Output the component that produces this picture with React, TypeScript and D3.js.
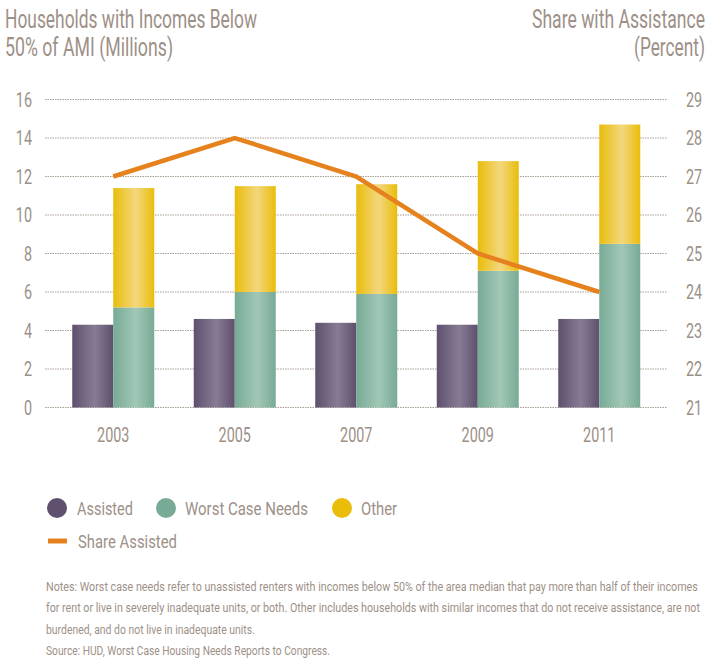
import React, { useLayoutEffect, useRef, useState } from "react";
import * as d3 from "d3";

const years = ["2003", "2005", "2007", "2009", "2011"];
const assisted = [4.3, 4.6, 4.4, 4.3, 4.6];
const worstCase = [5.2, 6.0, 5.9, 7.1, 8.5];
const other = [6.2, 5.5, 5.7, 5.7, 6.2];
const shareAssisted = [27, 28, 27, 25, 24];
const leftTicks = [0, 2, 4, 6, 8, 10, 12, 14, 16];
const rightTicks = [21, 22, 23, 24, 25, 26, 27, 28, 29];
const notes = [
  "Notes: Worst case needs refer to unassisted renters with incomes below 50% of the area median that pay more than half of their incomes",
  "for rent or live in severely inadequate units, or both. Other includes households with similar incomes that do not receive assistance, are not",
  "burdened, and do not live in inadequate units.",
  "Source: HUD, Worst Case Housing Needs Reports to Congress.",
];

const FONT = "Roboto, 'Liberation Sans', sans-serif";
const TXT = "#9d9087";
const GRID = "#a89d93";
const ORANGE = "#e6821e";
const SX = 0.72;

function CT(props: { x: number; y: number; size: number; anchor?: string; dy?: string; children: any }) {
  const { x, y, size, anchor, dy, children } = props;
  return (
    <text transform={`translate(${x},${y}) scale(${SX},1)`} dy={dy} fontSize={size} fill={TXT} textAnchor={anchor || "start"}>
      {children}
    </text>
  );
}

// Text condensed horizontally to a target width (measured, then scaled).
function LT(props: { x: number; y: number; size: number; len: number; anchor?: string; children: any }) {
  const { x, y, size, len, anchor, children } = props;
  const ref = useRef<SVGTextElement>(null);
  const [s, setS] = useState(SX);
  useLayoutEffect(() => {
    if (ref.current) {
      const w = ref.current.getComputedTextLength();
      if (w > 0) setS(len / w);
    }
  }, [len, children]);
  return (
    <text ref={ref} transform={`translate(${x},${y}) scale(${s},1)`} fontSize={size} fill={TXT} textAnchor={anchor || "start"}>
      {children}
    </text>
  );
}

export default function App() {
  const W = 708, H = 663;
  const y = d3.scaleLinear().domain([0, 16]).range([407.5, 99.5]);
  const yR = d3.scaleLinear().domain([21, 29]).range([407.5, 99.5]);
  const x = d3.scaleBand().domain(years).range([52.5, 660]).padding(0);
  const barW = 41;
  const cx = (yr: string) => (x(yr) as number) + x.bandwidth() / 2;

  const line = d3
    .line<number>()
    .x((_, i) => cx(years[i]))
    .y((d) => yR(d));

  const grads = [
    { id: "gA", edge: "#5e506e", mid: "#877c94" },
    { id: "gW", edge: "#77ab96", mid: "#a2c7b6" },
    { id: "gO", edge: "#e9bd0a", mid: "#f3d77e" },
  ];

  const noteLens = [652, 654, 209, 284];
  const noteYs = [591, 612, 634, 655];

  return (
    <svg width={W} height={H} style={{ position: "absolute", left: 0, top: 0, background: "#fff" }} fontFamily={FONT}>
      <defs>
        {grads.map((g) => (
          <linearGradient key={g.id} id={g.id} x1="0" x2="1" y1="0" y2="0">
            <stop offset="0%" stopColor={g.edge} />
            <stop offset="55%" stopColor={g.mid} />
            <stop offset="100%" stopColor={g.edge} />
          </linearGradient>
        ))}
      </defs>

      {/* titles */}
      <LT x={5} y={28} size={25} len={252}>Households with Incomes Below</LT>
      <LT x={5} y={56} size={25} len={168}>50% of AMI (Millions)</LT>
      <LT x={705} y={28} size={25} len={173} anchor="end">Share with Assistance</LT>
      <LT x={705} y={56} size={25} len={71} anchor="end">(Percent)</LT>

      {/* gridlines */}
      {leftTicks.map((t) => (
        <line key={t} x1={45} x2={667} y1={y(t)} y2={y(t)} stroke={GRID} strokeWidth={1.2} strokeDasharray="1.5 1" />
      ))}
      {leftTicks.map((t) => (
        <CT key={"l" + t} x={32} y={y(t)} dy="0.36em" size={20} anchor="end">{t}</CT>
      ))}
      {rightTicks.map((t) => (
        <CT key={"r" + t} x={686} y={yR(t)} dy="0.36em" size={20}>{t}</CT>
      ))}

      {/* bars */}
      {years.map((yr, i) => {
        const c = cx(yr);
        return (
          <g key={yr}>
            <rect x={c - barW} width={barW} y={y(assisted[i])} height={y(0) - y(assisted[i])} fill="url(#gA)" />
            <rect x={c} width={barW} y={y(worstCase[i])} height={y(0) - y(worstCase[i])} fill="url(#gW)" />
            <rect x={c} width={barW} y={y(worstCase[i] + other[i])} height={y(worstCase[i]) - y(worstCase[i] + other[i])} fill="url(#gO)" />
            <CT x={c} y={442} size={20} anchor="middle">{yr}</CT>
          </g>
        );
      })}

      <path d={line(shareAssisted) || ""} fill="none" stroke={ORANGE} strokeWidth={4.5} strokeLinejoin="miter" />

      {/* legend */}
      <circle cx={57} cy={508} r={10} fill="#5e506e" />
      <LT x={77} y={515} size={19} len={56}>Assisted</LT>
      <circle cx={166} cy={508} r={10} fill="#77ab96" />
      <LT x={185} y={515} size={19} len={123}>Worst Case Needs</LT>
      <circle cx={342} cy={508} r={10} fill="#e9bd0a" />
      <LT x={361} y={515} size={19} len={36}>Other</LT>
      <line x1={48} x2={67} y1={541} y2={541} stroke={ORANGE} strokeWidth={5} />
      <LT x={78} y={548} size={19} len={99}>Share Assisted</LT>

      {/* notes */}
      {notes.map((n, i) => (
        <LT key={i} x={46} y={noteYs[i]} size={13} len={noteLens[i]}>{n}</LT>
      ))}
    </svg>
  );
}
